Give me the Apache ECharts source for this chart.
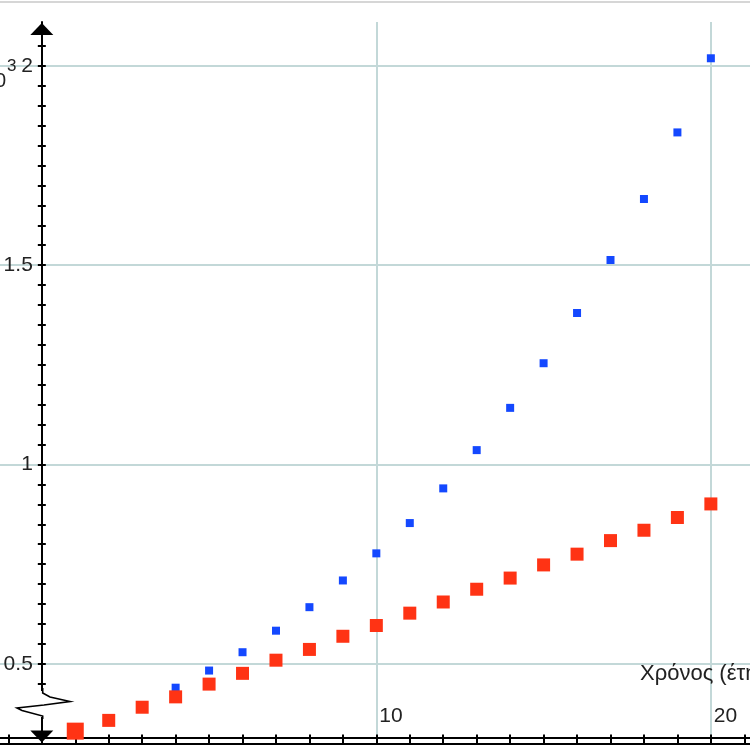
<!DOCTYPE html>
<html>
<head>
<meta charset="utf-8">
<script src="https://cdn.jsdelivr.net/npm/echarts@6/dist/echarts.min.js"></script>
<style>
html,body{margin:0;padding:0;background:#fff;}
#chart{width:750px;height:750px;}
</style>
</head>
<body>
<div id="chart"></div>
<script>
// ---- data ----
const years = [1,2,3,4,5,6,7,8,9,10,11,12,13,14,15,16,17,18,19,20];
const redValues = [0.331,0.358,0.391,0.417,0.449,0.476,0.509,0.536,0.569,0.596,
                   0.627,0.655,0.687,0.715,0.748,0.775,0.809,0.835,0.867,0.901];
const blueYears = [4,5,6,7,8,9,10,11,12,13,14,15,16,17,18,19,20];
const blueValues = [0.44,0.483,0.529,0.583,0.642,0.709,0.777,0.853,0.94,1.036,
                    1.142,1.254,1.38,1.513,1.666,1.833,2.019];
const yLabelValues = [0.5, 1, 1.5, 2];
const xLabelValues = [10, 20];
const xTickValues = [-1,0,1,2,3,4,5,6,7,8,9,10,11,12,13,14,15,16,17,18,19,20,21];
const yTickValues = [0.45,0.5,0.55,0.6,0.65,0.7,0.75,0.8,0.85,0.9,0.95,1,1.05,1.1,1.15,1.2,1.25,1.3,
                     1.35,1.4,1.45,1.5,1.55,1.6,1.65,1.7,1.75,1.8,1.85,1.9,1.95,2,2.05];
const xAxisName = 'Χρόνος (έτη)';
const yUnitBase = '10';
const yUnitExp = '3';

const X_MIN = -1.25, X_MAX = 21.17, Y_MIN = 0.3, Y_MAX = 2.11;
const FONT = 'Liberation Sans, Arial, sans-serif';
const GRID_COLOR = '#c3d8d8';
const TEXT_COLOR = '#222';
const WIDTH = 750;
// place the y axis at x = 0 of the x scale
const Y_AXIS_OFFSET = -(0 - X_MIN) / (X_MAX - X_MIN) * WIDTH;

const redData = years.map((x, i) => [x, redValues[i]]);
const blueData = blueYears.map((x, i) => [x, blueValues[i]]);

const baseX = { type: 'value', gridIndex: 0, min: X_MIN, max: X_MAX, position: 'bottom' };
const baseY = { type: 'value', gridIndex: 0, min: Y_MIN, max: Y_MAX, position: 'left' };

const chart = echarts.init(document.getElementById('chart'), null, { renderer: 'canvas' });
chart.setOption({
  backgroundColor: '#ffffff',
  animation: false,
  grid: { left: 0, right: 0, top: 22, bottom: 6.5, containLabel: false, outerBoundsMode: 'none' },
  xAxis: [
    Object.assign({}, baseX, {
      axisLine: { onZero: false, lineStyle: { color: '#000', width: 2 } },
      axisTick: { customValues: xTickValues, inside: true, length: 9, lineStyle: { color: '#000', width: 2 } },
      axisLabel: { show: false },
      splitLine: { show: false }
    }),
    Object.assign({}, baseX, {
      offset: -6,
      axisLine: { onZero: false, lineStyle: { color: '#000', width: 2 } },
      axisTick: { show: false },
      axisLabel: { customValues: xLabelValues, inside: true, margin: 21, align: 'left',
                   verticalAlign: 'middle', padding: [0, 0, 0, 3],
                   color: TEXT_COLOR, fontSize: 21, fontFamily: FONT },
      splitLine: { show: false }
    }),
    Object.assign({}, baseX, {
      axisLine: { show: false, onZero: false },
      axisTick: { show: false, customValues: xLabelValues },
      axisLabel: { show: false },
      splitLine: { show: true, lineStyle: { color: GRID_COLOR, width: 2 } }
    })
  ],
  yAxis: [
    Object.assign({}, baseY, {
      offset: Y_AXIS_OFFSET,
      axisLine: { show: true, onZero: false,
                  symbol: ['triangle', 'triangle'], symbolSize: [23, 12], symbolOffset: [7, -7],
                  lineStyle: { color: '#000', width: 2 } },
      axisTick: { customValues: yTickValues, inside: false, length: 4, lineStyle: { color: '#000', width: 2 } },
      axisLabel: { customValues: yLabelValues, margin: 9, color: TEXT_COLOR, fontSize: 21, fontFamily: FONT },
      splitLine: { show: false }
    }),
    Object.assign({}, baseY, {
      offset: Y_AXIS_OFFSET,
      axisLine: { show: false, onZero: false },
      axisTick: { customValues: yTickValues, inside: true, length: 4, lineStyle: { color: '#000', width: 2 } },
      axisLabel: { show: false },
      splitLine: { show: false }
    }),
    Object.assign({}, baseY, {
      axisLine: { show: false, onZero: false },
      axisTick: { show: false, customValues: yLabelValues },
      axisLabel: { show: false },
      splitLine: { show: true, lineStyle: { color: GRID_COLOR, width: 2 } }
    })
  ],
  series: [
    {
      name: 'blue', type: 'scatter', xAxisIndex: 0, yAxisIndex: 0,
      symbol: 'rect', symbolSize: 8,
      itemStyle: { color: '#1448ff', opacity: 1 },
      data: blueData, z: 3
    },
    {
      name: 'red', type: 'scatter', xAxisIndex: 0, yAxisIndex: 0,
      symbol: 'rect',
      symbolSize: function (v, p) { return p.dataIndex === 0 ? 17 : 13; },
      itemStyle: { color: '#ff3314', opacity: 1 },
      data: redData, z: 4
    }
  ],
  graphic: [
    { type: 'line', z: 100, shape: { x1: 0, y1: 2, x2: 750, y2: 2 },
      style: { stroke: '#d6d6d6', lineWidth: 2 } },
    { type: 'rect', z: 100, shape: { x: 37, y: 691, width: 12, height: 26 },
      style: { fill: '#ffffff' } },
    { type: 'polyline', z: 101,
      shape: { points: [[42.7,688],[42.7,693],[50,697],[70,701.5],[44,705],[17,708],[22,710.5],[42.7,716],[42.7,719]] },
      style: { stroke: '#000', lineWidth: 1.6, fill: null } },
    { type: 'text', z: 101,
      style: { text: yUnitBase, x: 6, y: 81, align: 'right', verticalAlign: 'middle',
               fill: TEXT_COLOR, fontSize: 20, fontFamily: FONT } },
    { type: 'text', z: 101,
      style: { text: yUnitExp, x: 7, y: 66, align: 'left', verticalAlign: 'middle',
               fill: TEXT_COLOR, fontSize: 17, fontFamily: FONT } },
    { type: 'text', z: 101,
      style: { text: xAxisName, x: 640, y: 674, align: 'left', verticalAlign: 'middle',
               fill: TEXT_COLOR, fontSize: 22, fontFamily: FONT } }
  ]
});
</script>
</body>
</html>
